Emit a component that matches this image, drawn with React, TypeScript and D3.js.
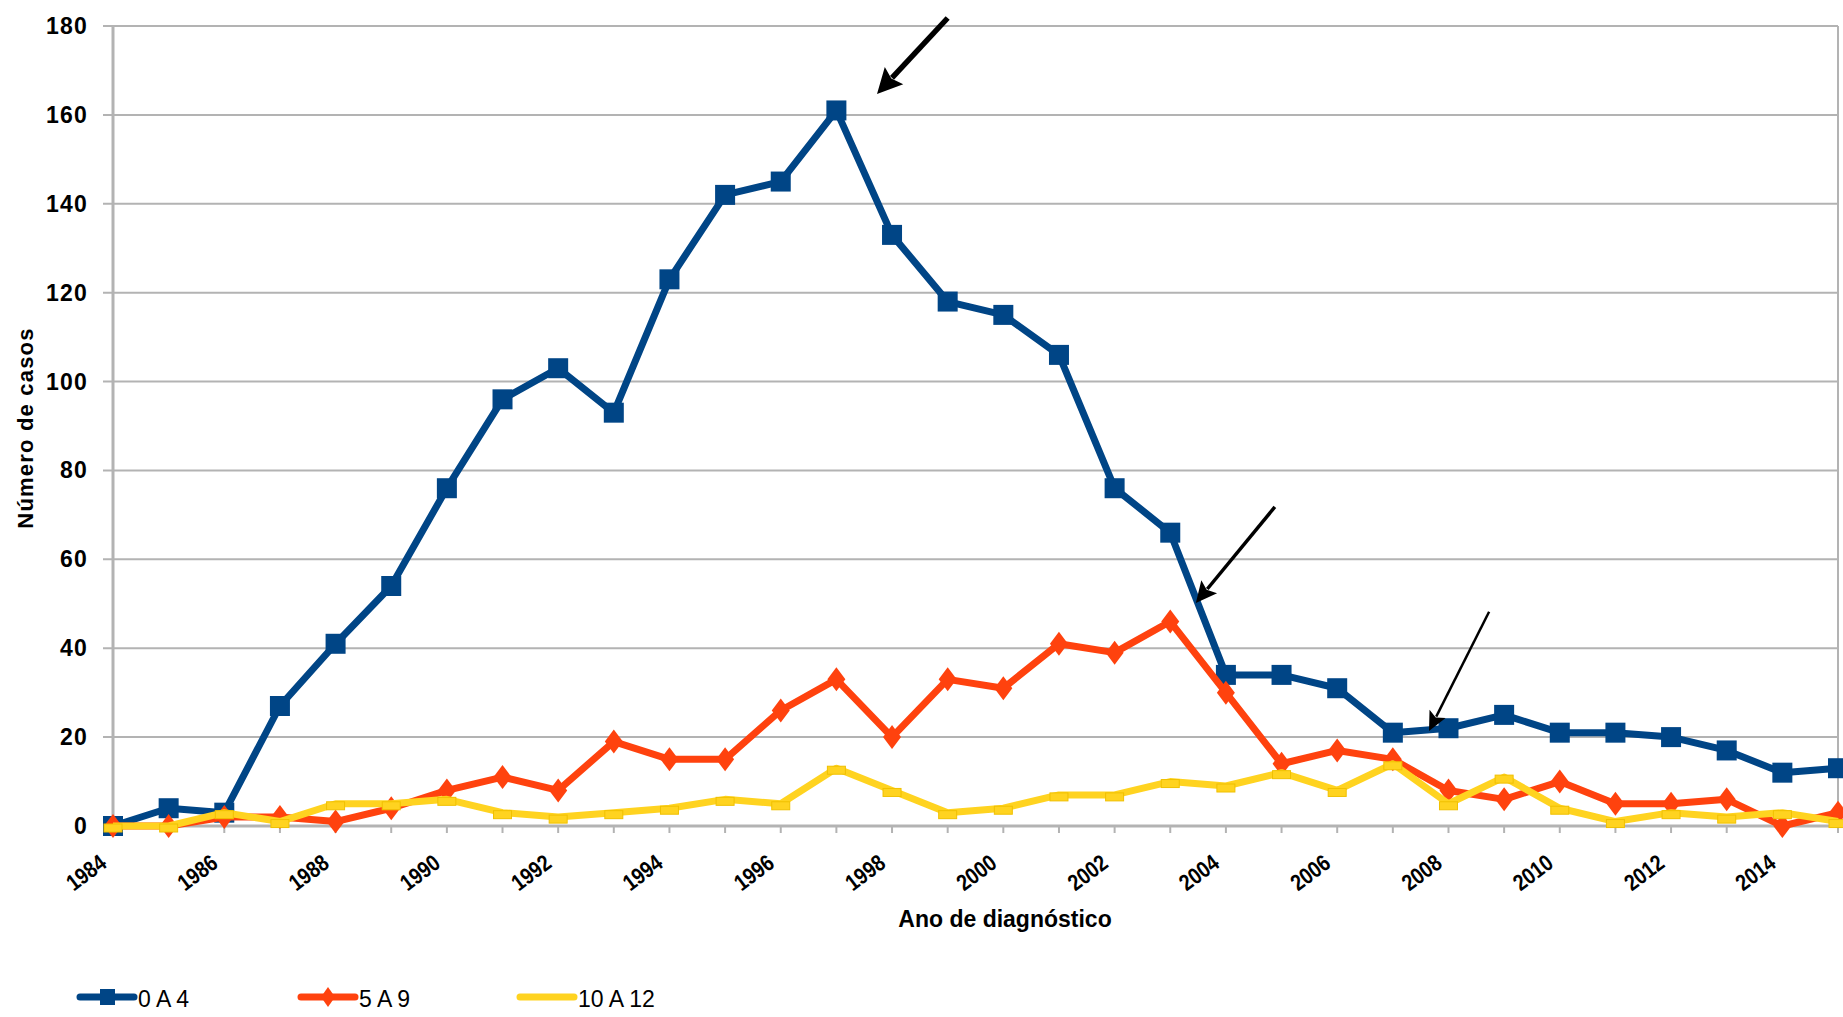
import React, { useEffect, useRef } from 'react';
import * as d3 from 'd3';

// anos de diagnóstico 1984..2015
const years = d3.range(1984, 2016);
const yTicks = [0, 20, 40, 60, 80, 100, 120, 140, 160, 180];
const xTickLabels = d3.range(1984, 2016, 2);

const serie0a4 = [0, 4, 3, 27, 41, 54, 76, 96, 103, 93, 123, 142, 145, 161, 133, 118, 115, 106, 76, 66, 34, 34, 31, 21, 22, 25, 21, 21, 20, 17, 12, 13];
const serie5a9 = [0, 0, 2, 2, 1, 4, 8, 11, 8, 19, 15, 15, 26, 33, 20, 33, 31, 41, 39, 46, 30, 14, 17, 15, 8, 6, 10, 5, 5, 6, 0, 3];
const serie10a12 = [0, 0, 3, 1, 5, 5, 6, 3, 2, 3, 4, 6, 5, 13, 8, 3, 4, 7, 7, 10, 9, 12, 8, 14, 5, 11, 4, 1, 3, 2, 3, 1];

// setas (em unidades de dados): [x0, y0, xTip, yTip, espessura]
const arrows = [
  [1999.0, 181.8, 1997.73, 164.7, 5.5],
  [2004.88, 71.8, 2003.46, 50.2, 3.5],
  [2008.73, 48.2, 2007.65, 21.4, 2.5],
];

const BLUE = '#004586';
const ORANGE = '#ff420e';
const YELLOW = '#ffd320';
const GRID = '#b3b3b3';

const App = () => {
  const svgRef = useRef(null);

  useEffect(() => {
    const width = 1843;
    const height = 1017;
    const svg = d3.select(svgRef.current).attr('width', width).attr('height', height);
    svg.selectAll('*').remove();

    const x = d3.scaleLinear().domain([1984, 2015]).range([113, 1838]);
    const y = d3.scaleLinear().domain([0, 180]).range([826, 26]);

    // grid lines
    svg.append('g')
      .selectAll('line')
      .data(yTicks.filter(d => d > 0))
      .enter()
      .append('line')
      .attr('x1', 103)
      .attr('x2', x(2015))
      .attr('y1', d => y(d))
      .attr('y2', d => y(d))
      .attr('stroke', GRID)
      .attr('stroke-width', 2);

    // right border
    svg.append('line')
      .attr('x1', x(2015)).attr('x2', x(2015))
      .attr('y1', y(180)).attr('y2', y(0))
      .attr('stroke', GRID).attr('stroke-width', 2);

    // x ticks
    svg.append('g')
      .selectAll('line')
      .data(years)
      .enter()
      .append('line')
      .attr('x1', d => x(d))
      .attr('x2', d => x(d))
      .attr('y1', y(0))
      .attr('y2', y(0) + 7)
      .attr('stroke', GRID)
      .attr('stroke-width', 2);

    // axes
    svg.append('line')
      .attr('x1', 103).attr('x2', x(2015))
      .attr('y1', y(0)).attr('y2', y(0))
      .attr('stroke', GRID).attr('stroke-width', 3);
    svg.append('line')
      .attr('x1', x(1984)).attr('x2', x(1984))
      .attr('y1', y(180)).attr('y2', y(0) + 7)
      .attr('stroke', GRID).attr('stroke-width', 3);

    // y tick labels
    svg.append('g')
      .selectAll('text')
      .data(yTicks)
      .enter()
      .append('text')
      .attr('x', 88)
      .attr('y', d => y(d) + 8)
      .attr('text-anchor', 'end')
      .style('font-family', '"Liberation Sans", Arial, sans-serif')
      .style('font-size', '23px')
      .style('font-weight', 'bold')
      .style('letter-spacing', '1.2px')
      .text(d => d);

    // x tick labels (rotated, a bit condensed)
    svg.append('g')
      .selectAll('text')
      .data(xTickLabels)
      .enter()
      .append('text')
      .attr('transform', d => `translate(${x(d) - 5},${y(0) + 40}) rotate(-37) scale(0.84,1)`)
      .attr('text-anchor', 'end')
      .style('font-family', '"Liberation Sans", Arial, sans-serif')
      .style('font-size', '23px')
      .style('font-weight', 'bold')
      .text(d => d);

    // axis titles
    svg.append('text')
      .attr('x', 1005)
      .attr('y', 927)
      .attr('text-anchor', 'middle')
      .style('font-family', '"Liberation Sans", Arial, sans-serif')
      .style('font-size', '23px')
      .style('font-weight', 'bold')
      .text('Ano de diagnóstico');

    svg.append('text')
      .attr('transform', 'translate(33,428) rotate(-90)')
      .attr('text-anchor', 'middle')
      .style('font-family', '"Liberation Sans", Arial, sans-serif')
      .style('font-size', '22px')
      .style('font-weight', 'bold')
      .style('letter-spacing', '1.2px')
      .text('Número de casos');

    const line = d3.line().x((d, i) => x(years[i])).y(d => y(d));

    const drawLine = (vals, color) => {
      svg.append('path')
        .datum(vals)
        .attr('d', line)
        .attr('fill', 'none')
        .attr('stroke', color)
        .attr('stroke-width', 7)
        .attr('stroke-linejoin', 'round');
    };

    // 0 A 4
    drawLine(serie0a4, BLUE);
    svg.append('g')
      .selectAll('rect')
      .data(serie0a4)
      .enter()
      .append('rect')
      .attr('x', (d, i) => x(years[i]) - 10)
      .attr('y', d => y(d) - 10)
      .attr('width', 20)
      .attr('height', 20)
      .attr('fill', BLUE);

    // 5 A 9
    drawLine(serie5a9, ORANGE);
    svg.append('g')
      .selectAll('path')
      .data(serie5a9)
      .enter()
      .append('path')
      .attr('d', (d, i) => {
        const cx = x(years[i]);
        const cy = y(d);
        return `M${cx},${cy - 12}L${cx + 9},${cy}L${cx},${cy + 12}L${cx - 9},${cy}Z`;
      })
      .attr('fill', ORANGE);

    // 10 A 12
    drawLine(serie10a12, YELLOW);
    svg.append('g')
      .selectAll('rect')
      .data(serie10a12)
      .enter()
      .append('rect')
      .attr('x', (d, i) => x(years[i]) - 9)
      .attr('y', d => y(d) - 2)
      .attr('width', 18)
      .attr('height', 8)
      .attr('fill', YELLOW)
      .attr('stroke', '#f0c000')
      .attr('stroke-width', 1);

    // arrows
    arrows.forEach(([x0, y0, x1, y1, w]) => {
      const sx = x(x0), sy = y(y0), tx = x(x1), ty = y(y1);
      const ang = Math.atan2(ty - sy, tx - sx);
      const headLen = 14 + w * 2;
      const headW = 6 + w * 1.2;
      const bx = tx - headLen * Math.cos(ang);
      const by = ty - headLen * Math.sin(ang);
      svg.append('line')
        .attr('x1', sx).attr('y1', sy)
        .attr('x2', bx + 3 * Math.cos(ang)).attr('y2', by + 3 * Math.sin(ang))
        .attr('stroke', '#000')
        .attr('stroke-width', w);
      const px = -Math.sin(ang), py = Math.cos(ang);
      svg.append('path')
        .attr('d', `M${tx},${ty}L${bx + px * headW},${by + py * headW}L${bx + 4 * Math.cos(ang)},${by + 4 * Math.sin(ang)}L${bx - px * headW},${by - py * headW}Z`)
        .attr('fill', '#000');
    });

    // legend
    const legend = [
      { label: '0 A 4', color: BLUE, x0: 77, marker: 'square' },
      { label: '5 A 9', color: ORANGE, x0: 298, marker: 'diamond' },
      { label: '10 A 12', color: YELLOW, x0: 517, marker: 'none' },
    ];
    const ly = 997;
    legend.forEach(item => {
      svg.append('line')
        .attr('x1', item.x0 + 3).attr('x2', item.x0 + 57)
        .attr('y1', ly).attr('y2', ly)
        .attr('stroke', item.color)
        .attr('stroke-width', 7)
        .attr('stroke-linecap', 'round');
      const cx = item.x0 + 30;
      if (item.marker === 'square') {
        svg.append('rect')
          .attr('x', cx - 7).attr('y', ly - 8)
          .attr('width', 15).attr('height', 16)
          .attr('fill', item.color);
      } else if (item.marker === 'diamond') {
        svg.append('path')
          .attr('d', `M${cx},${ly - 10}L${cx + 7},${ly}L${cx},${ly + 10}L${cx - 7},${ly}Z`)
          .attr('fill', item.color);
      }
      svg.append('text')
        .attr('x', item.x0 + 61)
        .attr('y', ly + 10)
        .style('font-family', '"Liberation Sans", Arial, sans-serif')
        .style('font-size', '23px')
        .text(item.label);
    });
  }, []);

  return (
    <svg ref={svgRef} style={{ position: 'absolute', left: 0, top: 0, background: '#fff' }}></svg>
  );
};

export default App;
